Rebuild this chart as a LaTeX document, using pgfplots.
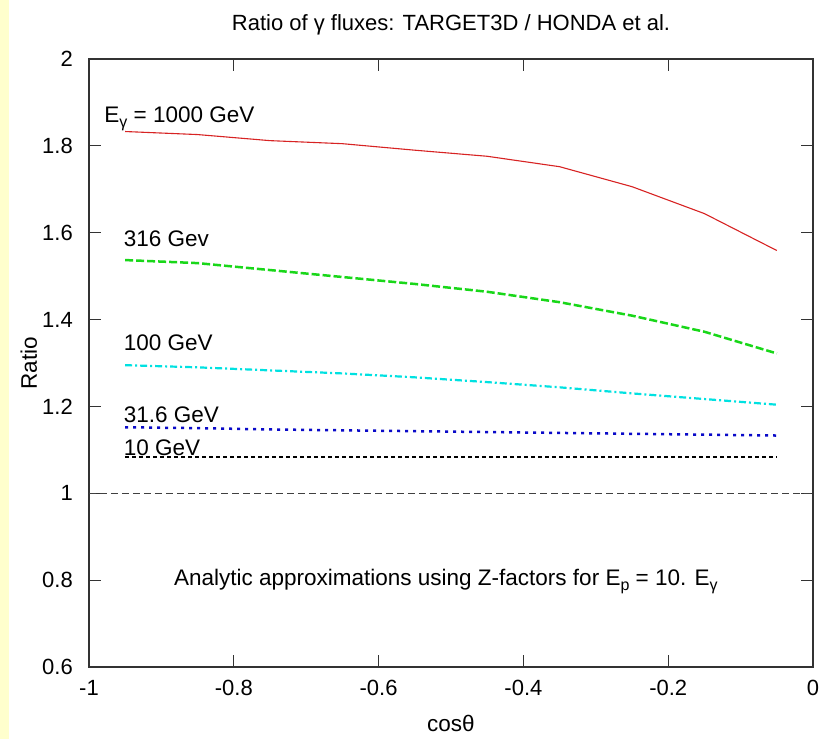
\documentclass[border=0pt]{standalone}
\usepackage{fontspec}
\setmainfont{Liberation Sans}
\usepackage{pgfplots}
\pgfplotsset{compat=1.18}
\definecolor{cRed}{RGB}{215,35,35}
\definecolor{cGreen}{RGB}{25,215,25}
\definecolor{cCyan}{RGB}{0,225,225}
\definecolor{cBlue}{RGB}{10,10,200}
\definecolor{cYel}{RGB}{255,255,205}
\newcommand{\sub}[1]{\raisebox{-5pt}{\fontsize{16}{16}\selectfont #1}}
\begin{document}
\begin{tikzpicture}[font=\fontsize{22.5}{27}\selectfont]
\path[use as bounding box] (-89pt,-72pt) rectangle (735pt,667pt);
\fill[cYel] (-89pt,-72pt) rectangle (-80pt,667pt);
\begin{axis}[
  at={(0pt,0pt)}, anchor=south west,
  scale only axis, width=724pt, height=608pt,
  xmin=-1, xmax=0, ymin=0.6, ymax=2,
  xtick={-1,-0.8,-0.6,-0.4,-0.2,0},
  xticklabels={-1,-0.8,-0.6,-0.4,-0.2,0},
  ytick={0.6,0.8,1,1.2,1.4,1.6,1.8,2},
  yticklabels={0.6,0.8,1,1.2,1.4,1.6,1.8,2},
  tick align=inside, major tick length=12pt,
  tick style={black!80, line width=1pt},
  axis line style={black!80, line width=1.2pt},
  tick label style={font=\fontsize{22}{26}\selectfont},
  xticklabel style={anchor=north, inner sep=0pt, yshift=-13pt},
  yticklabel style={anchor=east, inner sep=0pt, xshift=-16pt},
  xlabel={cosθ}, ylabel={Ratio},
  xlabel style={at={(axis description cs:0.5,-0.093)}, anchor=center, inner sep=0pt},
  ylabel style={at={(axis description cs:-0.083,0.5)}, anchor=center, inner sep=0pt},
  title={Ratio of γ fluxes: TARGET3D / HONDA et al.},
  title style={at={(axis description cs:0.5,1.047)}, anchor=center, inner sep=0pt, font=\fontsize{22}{26}\selectfont},
]
% reference line
\addplot[black!75, line width=1pt, dash pattern=on 7pt off 4pt] coordinates {(-1,1) (0,1)};
% 1000 GeV
\addplot[cRed, line width=1.1pt] coordinates {
(-0.95,1.833) (-0.85,1.826) (-0.75,1.812) (-0.65,1.805) (-0.55,1.790)
(-0.45,1.776) (-0.35,1.752) (-0.25,1.706) (-0.15,1.644) (-0.05,1.559)};
% 316 GeV
\addplot[cGreen, line width=2.5pt, dash pattern=on 8pt off 3pt] coordinates {
(-0.95,1.537) (-0.85,1.530) (-0.75,1.514) (-0.65,1.498) (-0.55,1.482)
(-0.45,1.464) (-0.35,1.440) (-0.25,1.409) (-0.15,1.372) (-0.05,1.322)};
% 100 GeV
\addplot[cCyan, line width=2.2pt, dash pattern=on 7pt off 3pt on 2pt off 3pt] coordinates {
(-0.95,1.295) (-0.85,1.290) (-0.75,1.283) (-0.65,1.276) (-0.55,1.267)
(-0.45,1.256) (-0.35,1.244) (-0.25,1.230) (-0.15,1.217) (-0.05,1.204)};
% 31.6 GeV
\addplot[cBlue, line width=2.5pt, dash pattern=on 3pt off 5pt] coordinates {
(-0.95,1.152) (-0.85,1.150) (-0.75,1.147) (-0.65,1.145) (-0.55,1.143)
(-0.45,1.141) (-0.35,1.139) (-0.25,1.137) (-0.15,1.135) (-0.05,1.133)};
% 10 GeV
\addplot[black, line width=2.5pt, dash pattern=on 4pt off 3pt] coordinates {
(-0.95,1.083) (-0.85,1.083) (-0.75,1.083) (-0.65,1.083) (-0.55,1.083)
(-0.45,1.083) (-0.35,1.083) (-0.25,1.083) (-0.15,1.083) (-0.05,1.083)};
\node[anchor=base west, inner sep=0pt] at (axis cs:-0.979,1.853) {E\sub{γ} = 1000 GeV};
\node[anchor=base west, inner sep=0pt] at (axis cs:-0.952,1.569) {316 Gev};
\node[anchor=base west, inner sep=0pt] at (axis cs:-0.952,1.328) {100 GeV};
\node[anchor=base west, inner sep=0pt] at (axis cs:-0.952,1.163) {31.6 GeV};
\node[anchor=base west, inner sep=0pt] at (axis cs:-0.952,1.088) {10 GeV};
\node[anchor=base, inner sep=0pt] at (axis cs:-0.507,0.787) {Analytic approximations using Z-factors for E\sub{p} = 10. E\sub{γ}};
\end{axis}
\end{tikzpicture}
\end{document}
